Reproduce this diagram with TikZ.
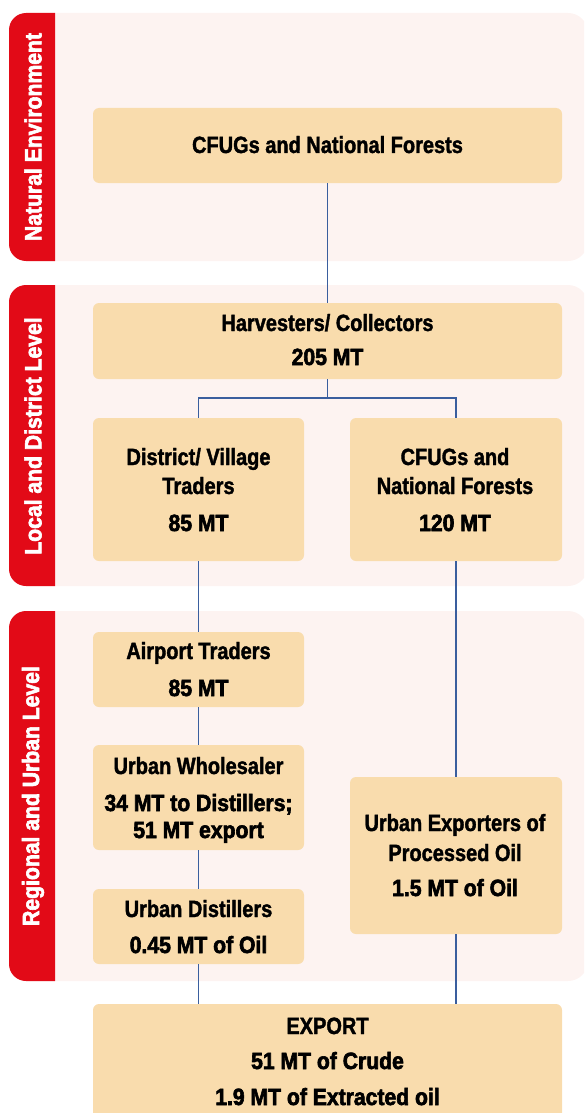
\documentclass[tikz,border=0pt]{standalone}
\usepackage{fontspec}
\setmainfont{Liberation Sans}[FakeStretch=0.85,BoldFeatures={FakeBold=1.6}]
\newfontfamily\heavyfont{Liberation Sans}[FakeStretch=0.9,BoldFeatures={FakeBold=2.6}]
\definecolor{tabred}{HTML}{E20A17}
\definecolor{bandpink}{HTML}{FDF3F1}
\definecolor{boxtan}{HTML}{F9DCAD}
\definecolor{linkblue}{HTML}{3A5E9E}
\tikzset{
  box/.style={fill=boxtan,rounded corners=6pt,inner sep=0pt},
  ttl/.style={font=\fontsize{23.5}{26}\selectfont\bfseries,anchor=base,inner sep=0pt},
  num/.style={font=\fontsize{23.5}{26}\heavyfont\bfseries,anchor=base,inner sep=0pt},
  tablabel/.style={font=\fontsize{23.5}{26}\heavyfont\bfseries,text=white,rotate=90,inner sep=0pt},
  conn/.style={draw=linkblue,line width=1.2pt}
}
\begin{document}
\begin{tikzpicture}[x=1pt,y=-1pt]
\useasboundingbox (0,0) rectangle (584,1113);
\clip (0,0) rectangle (584,1113);
% bands
\fill[bandpink,rounded corners=20pt] (9,13) rectangle (588,261);
\fill[bandpink,rounded corners=20pt] (9,285) rectangle (588,586);
\fill[bandpink,rounded corners=20pt] (9,611) rectangle (588,981);
\fill[tabred] (55,13) [rounded corners=17pt] -- (9,13) -- (9,261) [sharp corners] -- (55,261) -- cycle;
\fill[tabred] (55,285) [rounded corners=17pt] -- (9,285) -- (9,586) [sharp corners] -- (55,586) -- cycle;
\fill[tabred] (55,611) [rounded corners=17pt] -- (9,611) -- (9,981) [sharp corners] -- (55,981) -- cycle;
\node[tablabel] (t1) at (33,137) {Natural Environment};
\node[tablabel] (t2) at (33,436) {Local and District Level};
\node[tablabel] (t3) at (33,796) {Regional and Urban Level};
% boxes
\node[box,minimum width=469pt,minimum height=75pt] (cf1) at (327.5,145.5) {};
\node[box,minimum width=469pt,minimum height=76pt] (harv) at (327.5,341) {};
\node[box,minimum width=211pt,minimum height=143pt] (dvt) at (198.5,489.5) {};
\node[box,minimum width=212pt,minimum height=143pt] (cf2) at (456,489.5) {};
\node[box,minimum width=211pt,minimum height=75pt] (air) at (198.5,669.5) {};
\node[box,minimum width=211pt,minimum height=105pt] (whs) at (198.5,797.5) {};
\node[box,minimum width=211pt,minimum height=75pt] (dst) at (198.5,926.5) {};
\node[box,minimum width=212pt,minimum height=157pt] (uexp) at (456,855.5) {};
\node[box,minimum width=469pt,minimum height=140pt] (exp) at (327.5,1074) {};
% texts
\node[ttl] (cf1a) at (327.5,153) {CFUGs and National Forests};
\node[ttl] (harva) at (327.5,331) {Harvesters/ Collectors};
\node[num] (harvb) at (327.5,365) {205 MT};
\node[ttl] (dvta) at (198.5,465) {District/ Village};
\node[ttl] (dvtb) at (198.5,494) {Traders};
\node[num] (dvtc) at (198.5,531) {85 MT};
\node[ttl] (cf2a) at (455,465) {CFUGs and};
\node[ttl] (cf2b) at (455,494) {National Forests};
\node[num] (cf2c) at (455,531) {120 MT};
\node[ttl] (aira) at (198.5,659) {Airport Traders};
\node[num] (airb) at (198.5,696) {85 MT};
\node[ttl] (whsa) at (198.5,774) {Urban Wholesaler};
\node[num] (whsb) at (198.5,811) {34 MT to Distillers;};
\node[num] (whsc) at (198.5,838) {51 MT export};
\node[ttl] (dsta) at (198.5,917) {Urban Distillers};
\node[num] (dstb) at (198.5,953) {0.45 MT of Oil};
\node[ttl] (uexpa) at (455,831) {Urban Exporters of};
\node[ttl] (uexpb) at (455,861) {Processed Oil};
\node[num] (uexpc) at (455,896) {1.5 MT of Oil};
\node[ttl] (expa) at (327.5,1034) {EXPORT};
\node[num] (expb) at (327.5,1069) {51 MT of Crude};
\node[num] (expc) at (327.5,1105) {1.9 MT of Extracted oil};
% connectors
\coordinate (split) at (327.5,398);
\draw[conn] (cf1.south) -- (harv.north);
\draw[conn] (harv.south) -- (split) -| (dvt.north);
\draw[conn] (split) -| (cf2.north);
\draw[conn] (dvt.south) -- (air.north);
\draw[conn] (air.south) -- (whs.north);
\draw[conn] (whs.south) -- (dst.north);
\draw[conn] (dst.south) -- (dst.south |- exp.north);
\draw[conn] (cf2.south) -- (uexp.north);
\draw[conn] (uexp.south) -- (uexp.south |- exp.north);
\end{tikzpicture}
\end{document}
